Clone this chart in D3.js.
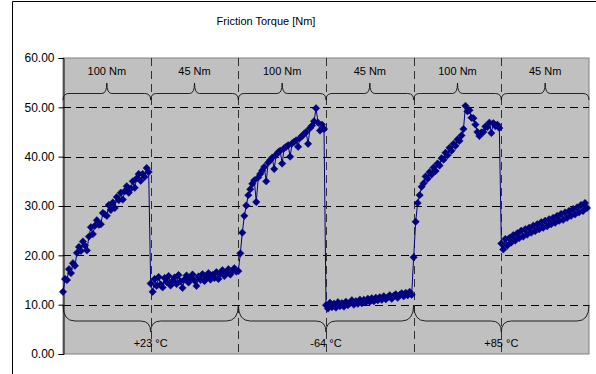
<!DOCTYPE html>
<html>
<head>
<meta charset="utf-8">
<script src="https://cdn.jsdelivr.net/npm/d3@7"></script>
<style>
  body { margin: 0; background: #fff; }
  text { font-family: "Liberation Sans", Arial, sans-serif; fill: #000; }
</style>
</head>
<body>
<div id="chart"></div>
<script>
// friction torque samples, one array per test phase
const s1 = [12.6, 15.2, 15.0, 17.2, 16.4, 18.4, 17.9, 20.5, 21.7, 20.9, 22.8, 22.0, 21.0, 23.8, 25.7, 24.3, 26.0, 27.1, 26.2, 26.3, 28.6, 28.3, 28.0, 30.2, 29.2, 30.7, 29.6, 31.8, 31.2, 32.7, 31.3, 33.0, 34.0, 32.7, 33.5, 35.0, 33.7, 35.6, 36.5, 35.1, 36.5, 35.9, 37.7, 36.9];
const s2 = [14.3, 12.6, 15.2, 13.8, 15.6, 14.1, 13.5, 15.4, 14.6, 15.8, 13.9, 14.8, 15.5, 14.2, 16.0, 14.7, 13.4, 15.1, 15.9, 14.5, 15.3, 16.1, 14.9, 13.8, 15.7, 15.0, 16.2, 14.8, 15.6, 16.4, 15.1, 16.0, 15.4, 16.6, 15.2, 16.3, 17.0, 15.8, 16.5, 17.2, 16.1, 16.8, 17.4, 16.7];
const s3 = [16.8, 20.4, 24.6, 28.0, 30.1, 32.2, 33.4, 34.5, 35.2, 30.8, 35.8, 36.5, 37.2, 37.9, 35.0, 38.8, 39.3, 39.8, 37.5, 40.4, 40.9, 41.2, 38.6, 41.7, 42.0, 42.3, 40.0, 42.7, 43.0, 43.3, 42.0, 43.8, 44.2, 44.6, 45.0, 42.6, 45.8, 46.3, 47.2, 49.8, 46.9, 45.3, 46.5, 45.6];
const s4 = [9.9, 9.2, 10.4, 9.5, 10.2, 9.4, 10.5, 9.7, 10.3, 9.6, 10.6, 9.9, 10.4, 10.9, 10.0, 10.7, 10.2, 11.0, 10.3, 11.0, 10.5, 11.2, 10.6, 11.3, 10.7, 11.4, 10.9, 11.5, 11.0, 11.7, 11.1, 11.5, 11.9, 11.2, 11.8, 12.1, 11.4, 12.0, 12.3, 11.7, 12.4, 11.9, 12.6, 12.0];
const s5 = [19.6, 26.8, 30.6, 32.2, 33.9, 34.6, 36.0, 35.5, 36.9, 36.4, 37.8, 37.1, 38.6, 38.2, 39.7, 39.4, 40.8, 40.3, 41.8, 41.2, 42.6, 42.2, 43.5, 43.2, 44.3, 45.6, 50.3, 49.2, 49.4, 47.9, 47.8, 46.5, 45.0, 44.2, 44.9, 45.0, 46.1, 46.0, 46.9, 44.8, 46.8, 46.2, 46.5, 45.8];
const s6 = [22.4, 21.2, 23.3, 22.0, 23.5, 22.6, 24.1, 23.0, 24.5, 23.5, 25.0, 23.8, 25.3, 24.2, 25.6, 24.6, 26.0, 24.9, 26.3, 25.3, 26.7, 25.6, 27.0, 25.9, 27.3, 26.3, 27.6, 26.6, 28.0, 27.0, 28.4, 27.2, 28.7, 27.6, 29.0, 28.0, 29.4, 28.3, 29.7, 28.7, 30.2, 29.0, 30.6, 29.6];
const sections = [s1, s2, s3, s4, s5, s6];

const loadLabels = ['100 Nm', '45 Nm', '100 Nm', '45 Nm', '100 Nm', '45 Nm'];
const tempLabels = ['+23 °C', '-64 °C', '+85 °C'];
const yTicks = [0, 10, 20, 30, 40, 50, 60];
const title = 'Friction Torque [Nm]';

const W = 596, H = 374;
const plot = { left: 63, right: 589, top: 58, bottom: 354 };

const svg = d3.select('#chart').append('svg')
  .attr('width', W)
  .attr('height', H);

// outer chart frame (only left/top visible in the crop)
svg.append('path')
  .attr('d', `M12.5,${H} V1.5 H${W}`)
  .attr('fill', 'none')
  .attr('stroke', '#000');

svg.append('text')
  .attr('x', 266)
  .attr('y', 25)
  .attr('text-anchor', 'middle')
  .style('font-size', '11px')
  .text(title);

const x = d3.scaleLinear().domain([0, 6]).range([plot.left, plot.right]);
const y = d3.scaleLinear().domain([0, 60]).range([plot.bottom, plot.top]);

svg.append('rect')
  .attr('x', plot.left)
  .attr('y', plot.top)
  .attr('width', plot.right - plot.left)
  .attr('height', plot.bottom - plot.top)
  .attr('fill', '#c0c0c0')
  .attr('stroke', '#808080');

// horizontal dashed gridlines
svg.append('g')
  .selectAll('line')
  .data(yTicks.filter(d => d > 0 && d < 60))
  .enter()
  .append('line')
  .attr('x1', plot.left)
  .attr('x2', plot.right)
  .attr('y1', d => Math.round(y(d)) + 0.5)
  .attr('y2', d => Math.round(y(d)) + 0.5)
  .attr('stroke', '#000')
  .attr('stroke-dasharray', '8,5');

// vertical dashed section dividers
svg.append('g')
  .selectAll('line')
  .data(d3.range(1, 6))
  .enter()
  .append('line')
  .attr('x1', d => Math.round(x(d)) + 0.5)
  .attr('x2', d => Math.round(x(d)) + 0.5)
  .attr('y1', plot.top)
  .attr('y2', plot.bottom)
  .attr('stroke', '#303030')
  .attr('stroke-dasharray', '8,5');

const yAxis = d3.axisLeft(y)
  .tickValues(yTicks)
  .tickSize(5)
  .tickFormat(d3.format('.2f'));

const gy = svg.append('g')
  .attr('transform', `translate(${plot.left + 0.5},0)`)
  .call(yAxis);
gy.select('.domain').attr('stroke', '#000');
gy.selectAll('text')
  .style('font-size', '12px')
  .style('font-family', '"Liberation Sans", Arial, sans-serif')
  .attr('x', -9);

// braces
function brace(x0, x1, yEnd, yLine, yTip, curl, tipW) {
  const xm = (x0 + x1) / 2;
  return `M${x0},${yEnd} Q${x0},${yLine} ${x0 + curl},${yLine} L${xm - tipW},${yLine} ` +
    `Q${xm},${yLine} ${xm},${yTip} Q${xm},${yLine} ${xm + tipW},${yLine} ` +
    `L${x1 - curl},${yLine} Q${x1},${yLine} ${x1},${yEnd}`;
}

const topG = svg.append('g');
loadLabels.forEach((lab, i) => {
  topG.append('path')
    .attr('d', brace(x(i), x(i + 1), 100, 93.5, 83, 6, 5))
    .attr('fill', 'none')
    .attr('stroke', '#111')
    .attr('stroke-width', 0.9);
  topG.append('text')
    .attr('x', x(i + 0.5))
    .attr('y', 75)
    .attr('text-anchor', 'middle')
    .style('font-size', '11px')
    .text(lab);
});

const bottomG = svg.append('g');
tempLabels.forEach((lab, i) => {
  bottomG.append('path')
    .attr('d', brace(x(2 * i), x(2 * i + 2), 305, 321, 332, 12, 10))
    .attr('fill', 'none')
    .attr('stroke', '#111')
    .attr('stroke-width', 0.9);
  bottomG.append('text')
    .attr('x', x(2 * i + 1))
    .attr('y', 347)
    .attr('text-anchor', 'middle')
    .style('font-size', '11px')
    .text(lab);
});

// series
const points = [];
sections.forEach((vals, s) => {
  vals.forEach((v, j) => points.push({ t: s + j / vals.length, v: v }));
});

const line = d3.line()
  .x(d => x(d.t))
  .y(d => y(d.v));

svg.append('path')
  .datum(points)
  .attr('d', line)
  .attr('fill', 'none')
  .attr('stroke', '#000080')
  .attr('stroke-width', 1);

svg.append('g')
  .selectAll('path')
  .data(points)
  .enter()
  .append('path')
  .attr('d', 'M0,-3.7L3.7,0L0,3.7L-3.7,0Z')
  .attr('transform', d => `translate(${x(d.t)},${y(d.v)})`)
  .attr('fill', '#000080')
  .attr('stroke', '#000080')
  .attr('stroke-width', 0.5);
</script>
</body>
</html>
